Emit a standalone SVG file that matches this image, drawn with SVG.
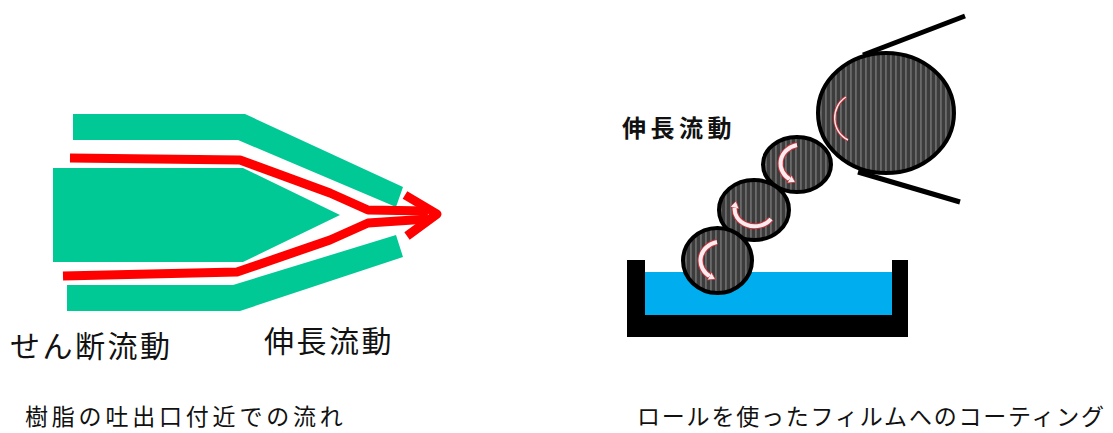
<svg xmlns="http://www.w3.org/2000/svg" width="1113" height="433" viewBox="0 0 1113 433">
  <style>
    .die { fill: #00C996; }
    .flow { fill: none; stroke: #FF0000; stroke-width: 9; stroke-linejoin: round; }
    .lbl { font-family: "Noto Sans CJK JP", "Noto Sans", sans-serif; fill: #111; }
    .big { font-size: 30px; letter-spacing: 2.5px; }
    .roll { fill: url(#stripes); stroke: #000; stroke-width: 4; }
    .rotR { fill: none; stroke: #C8323C; stroke-width: 6; stroke-linecap: butt; }
    .rotW { fill: none; stroke: #FBEDEF; stroke-width: 4; stroke-linecap: butt; }
  </style>
  <defs>
    <pattern id="stripes" patternUnits="userSpaceOnUse" width="5" height="10">
      <rect width="5" height="10" fill="#3c3c3c"/>
      <rect x="0" width="1.8" height="10" fill="#6a6a6a"/>
    </pattern>
    <marker id="tip" markerUnits="userSpaceOnUse" markerWidth="12" markerHeight="12" refX="2" refY="4.5" orient="auto">
      <path d="M0,0 L7,4.5 L0,9 Z" fill="#FBEDEF" stroke="#C8323C" stroke-width="0.7"/>
    </marker>
  </defs>

  <!-- Die: shear flow in the channels, stretching at the outlet -->
  <g id="die-upper">
    <polygon class="die" points="73,114 245,114 403,187 396,207 238,140 73,140"/>
  </g>
  <g id="die-core">
    <polygon class="die" points="53,168 243,168 340,215 243,262 53,262"/>
  </g>
  <g id="die-lower">
    <polygon class="die" points="67,285 233,285 396,235 403,257 240,311 67,311"/>
  </g>

  <g id="connectors">
    <polyline class="flow" points="70,158 240,160 330,193 368,210 428,211"/>
    <polyline class="flow" points="63,276 237,272 330,240 368,223 428,219"/>
    <polyline class="flow" stroke-width="11" stroke-linejoin="miter" points="405,195 437,214 407,236"/>
  </g>

  <g id="label-shear">
    <text class="lbl big" x="10" y="357">せん断流動</text>
  </g>
  <g id="label-extension-left">
    <text class="lbl big" x="264" y="352">伸長流動</text>
  </g>
  <g id="caption-left">
    <text class="lbl" x="25" y="425" font-size="23" letter-spacing="3.8">樹脂の吐出口付近での流れ</text>
  </g>

  <!-- Roll coater: pan, applicator rolls, film wrapped on the large roll -->
  <g id="pan">
    <rect x="645" y="272" width="247" height="43" fill="#00AEEF"/>
    <path d="M627,260 H645 V315 H892 V260 H908 V337 H627 Z" fill="#000"/>
  </g>

  <g id="film">
    <line x1="863" y1="55" x2="965" y2="16" stroke="#000" stroke-width="5"/>
    <line x1="858" y1="172" x2="960" y2="202" stroke="#000" stroke-width="5"/>
  </g>

  <g id="roll-large">
    <ellipse class="roll" cx="886" cy="113" rx="68" ry="60"/>
    <path d="M846,97 A22,24 0 0 0 848,140" fill="none" stroke="#C8323C" stroke-width="3"/>
    <path d="M846,97 A22,24 0 0 0 848,140" fill="none" stroke="#FBEDEF" stroke-width="1.4"/>
  </g>

  <g id="roll-3">
    <ellipse class="roll" cx="797" cy="164.5" rx="34" ry="27.5"/>
    <path class="rotR" d="M797,145 A21,19 0 0 0 791,180"/>
    <path class="rotW" d="M797,145 A21,19 0 0 0 791,180" marker-end="url(#tip)"/>
  </g>

  <g id="roll-2">
    <ellipse class="roll" cx="754" cy="210" rx="35" ry="30"/>
    <path class="rotR" d="M771,219 A20,17 0 0 1 735,206"/>
    <path class="rotW" d="M771,219 A20,17 0 0 1 735,206" marker-end="url(#tip)"/>
  </g>

  <g id="roll-1">
    <ellipse class="roll" cx="717.5" cy="260.5" rx="34.5" ry="32.5"/>
    <path class="rotR" d="M717,242 A21,19 0 0 0 711,277"/>
    <path class="rotW" d="M717,242 A21,19 0 0 0 711,277" marker-end="url(#tip)"/>
  </g>

  <g id="label-extension-right">
    <text class="lbl" x="622" y="137" font-size="24" font-weight="bold" letter-spacing="4.5">伸長流動</text>
  </g>
  <g id="caption-right">
    <text class="lbl" x="637" y="425" font-size="23" letter-spacing="1.8">ロールを使ったフィルムへのコーティング</text>
  </g>
</svg>
